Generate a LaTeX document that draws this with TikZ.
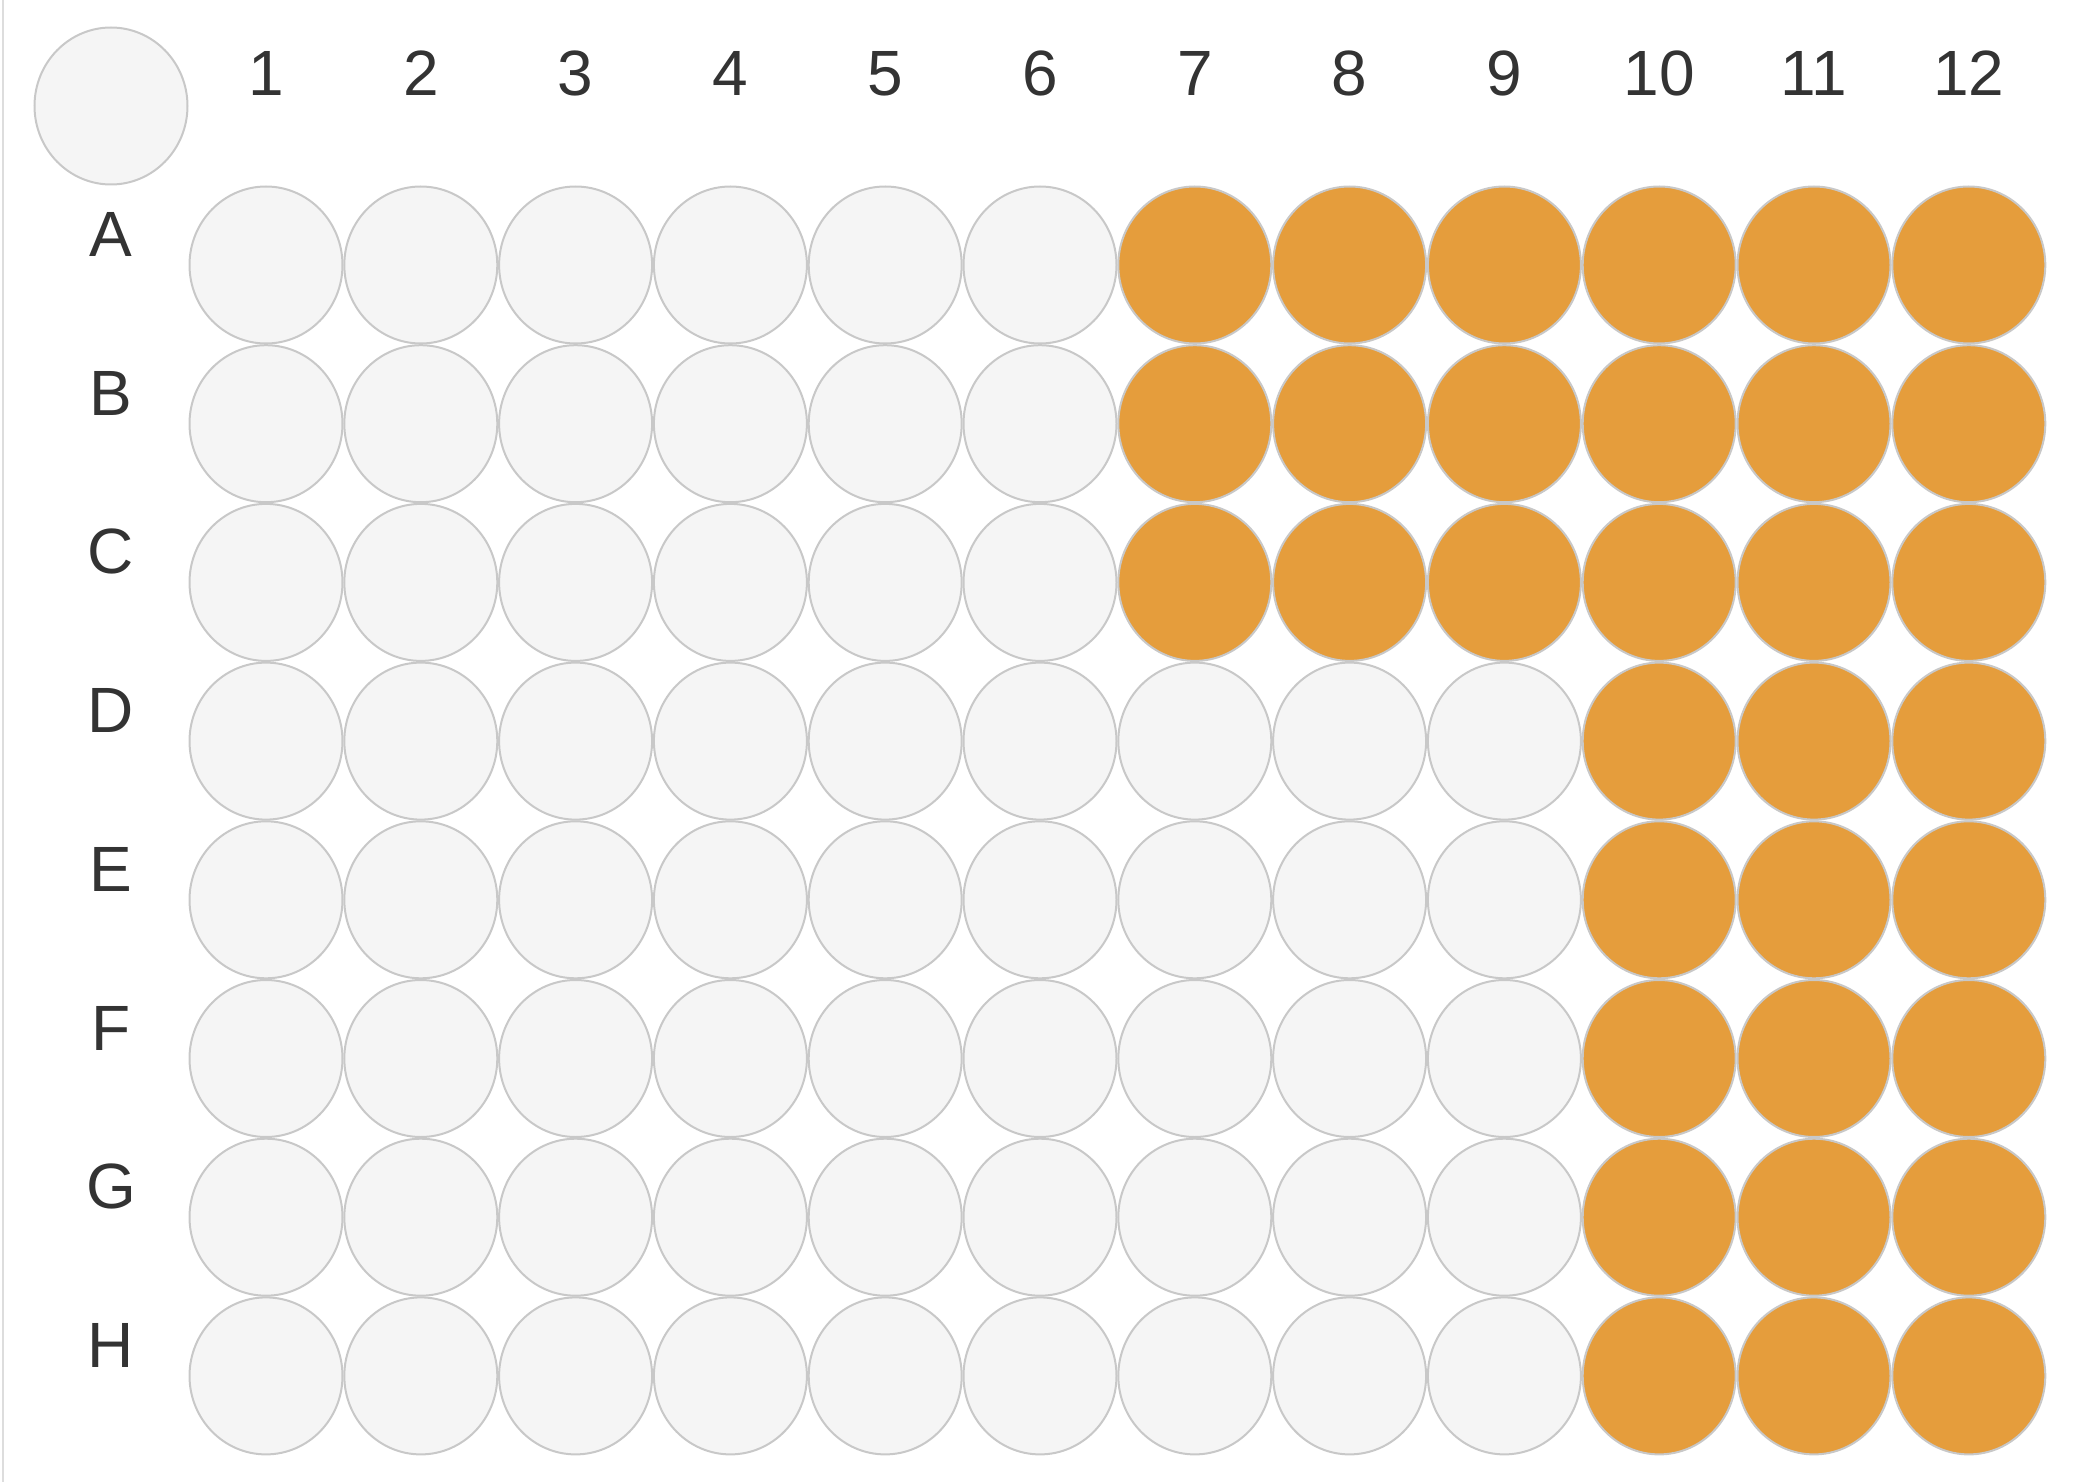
\documentclass[tikz,border=0pt]{standalone}
\usepackage{fontspec}
\setmainfont{Liberation Sans}
\usetikzlibrary{shapes.geometric}

\definecolor{wellfill}{HTML}{F5F5F5}
\definecolor{welledge}{HTML}{C8C8C8}
\definecolor{wellorange}{HTML}{E59D3C}
\definecolor{labeltext}{HTML}{333333}
\definecolor{frameline}{HTML}{DDDDDD}

\begin{document}
\begin{tikzpicture}[x=0.5pt, y=-0.5pt,
    well/.style={ellipse, draw=welledge, line width=1pt, fill=wellfill,
        minimum width=76.5pt, minimum height=78.5pt, inner sep=0pt},
    hitwell/.style={well, fill=wellorange},
    platelabel/.style={text=labeltext, inner sep=0pt,
        font=\fontsize{32}{38}\selectfont}]
    \useasboundingbox (0,0) rectangle (2074,1482);

    % left edge of the plate
    \draw[frameline, line width=1pt] (3,0) -- (3,1482);

    % corner well
    \node[well] (corner) at (111,106) {};

    % column numbers
    \foreach \c in {1,...,12} {
        \node[platelabel] (col\c) at ({266+(\c-1)*154.8}, 73.5) {\c};
    }

    % rows of wells
    \foreach \r [count=\i] in {A,B,C,D,E,F,G,H} {
        \node[platelabel] (row\r) at (111, {234.5+(\i-1)*158.7}) {\r};
        \foreach \c in {1,...,12} {
            \def\wellstyle{well}
            \ifnum\c>9 \def\wellstyle{hitwell}\fi
            \ifnum\i<4 \ifnum\c>6 \def\wellstyle{hitwell}\fi\fi
            \node[\wellstyle] (\r\c) at ({266+(\c-1)*154.8}, {265+(\i-1)*158.7}) {};
        }
    }
\end{tikzpicture}
\end{document}
